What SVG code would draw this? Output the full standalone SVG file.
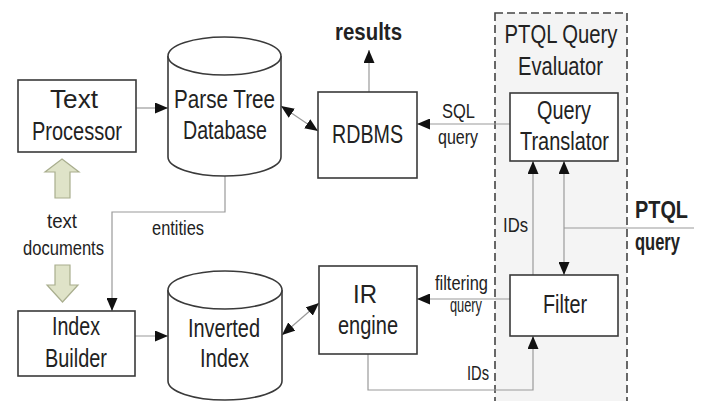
<svg xmlns="http://www.w3.org/2000/svg" width="701" height="401" viewBox="0 0 701 401">
  <style>
    .box { fill: #ffffff; stroke: #3a3a3a; stroke-width: 1.6; }
    .db { fill: #ffffff; stroke: #3a3a3a; stroke-width: 1.6; }
    .link { fill: none; stroke: #9a9a9a; stroke-width: 1.2; }
    .lbl { font-family: "Liberation Sans Narrow", "Liberation Sans", Arial, sans-serif; fill: #222222; text-anchor: middle; }
    .big { font-size: 26px; }
    .small { font-size: 20px; }
    .bold { font-weight: bold; font-size: 23px; }
    .fat { fill: #dfe3c8; stroke: #a9ae8e; stroke-width: 1.2; }
  </style>
  <defs>
    <marker id="head" markerUnits="userSpaceOnUse" markerWidth="13" markerHeight="11" refX="13" refY="5.5" orient="auto-start-reverse">
      <path d="M0,0 L13,5.5 L0,11 Z" fill="#111111"/>
    </marker>
  </defs>
  <rect width="701" height="401" fill="#ffffff"/>

  <!-- evaluator frame -->
  <g id="ptql-evaluator">
    <rect x="495" y="13" width="132" height="400" fill="#f4f4f4" stroke="#444444" stroke-width="1.6" stroke-dasharray="8 4"/>
    <text class="lbl big" x="561" y="43" textLength="113" lengthAdjust="spacingAndGlyphs">PTQL Query</text>
    <text class="lbl big" x="560.5" y="75" textLength="85" lengthAdjust="spacingAndGlyphs">Evaluator</text>
  </g>

  <!-- connectors -->
  <g id="connectors">
    <line class="link" x1="136" y1="108" x2="168" y2="108" marker-end="url(#head)"/>
    <line class="link" x1="281" y1="106" x2="318" y2="131" marker-start="url(#head)" marker-end="url(#head)"/>
    <line class="link" x1="369" y1="92" x2="369" y2="50" marker-end="url(#head)"/>
    <line class="link" x1="510" y1="124" x2="417" y2="124" marker-end="url(#head)"/>
    <line class="link" x1="533" y1="275" x2="533" y2="161" marker-end="url(#head)"/>
    <line class="link" x1="694" y1="228" x2="564" y2="228"/>
    <line class="link" x1="564" y1="228" x2="564" y2="161" marker-end="url(#head)"/>
    <line class="link" x1="564" y1="228" x2="564" y2="275" marker-end="url(#head)"/>
    <line class="link" x1="510" y1="299" x2="417" y2="299" marker-end="url(#head)"/>
    <path class="link" d="M368,354 V390 H533 V336" marker-end="url(#head)"/>
    <line class="link" x1="282" y1="335" x2="319" y2="303" marker-start="url(#head)" marker-end="url(#head)"/>
    <line class="link" x1="135" y1="336" x2="168" y2="336" marker-end="url(#head)"/>
    <path class="link" d="M225,176 V212 H112 V311" marker-end="url(#head)"/>
    <polygon class="fat" points="62,159 79,172 70,172 70,198 55,198 55,172 45,172"/>
    <polygon class="fat" points="55,265 70,265 70,285 78,285 62.5,302 47,285 55,285"/>
    <text class="lbl bold" x="368.5" y="40" textLength="67" lengthAdjust="spacingAndGlyphs">results</text>
    <text class="lbl small" x="458.5" y="118" textLength="33" lengthAdjust="spacingAndGlyphs">SQL</text>
    <text class="lbl small" x="458" y="144" textLength="40" lengthAdjust="spacingAndGlyphs">query</text>
    <text class="lbl bold" x="661.5" y="218" textLength="53" lengthAdjust="spacingAndGlyphs">PTQL</text>
    <text class="lbl bold" x="657.5" y="250" textLength="45" lengthAdjust="spacingAndGlyphs">query</text>
    <text class="lbl small" x="515.5" y="232" textLength="25" lengthAdjust="spacingAndGlyphs">IDs</text>
    <text class="lbl small" x="461.5" y="290" textLength="53" lengthAdjust="spacingAndGlyphs">filtering</text>
    <text class="lbl small" x="466" y="312" textLength="32" lengthAdjust="spacingAndGlyphs">query</text>
    <text class="lbl small" x="478" y="380" textLength="22" lengthAdjust="spacingAndGlyphs">IDs</text>
    <text class="lbl small" x="178" y="235" textLength="52" lengthAdjust="spacingAndGlyphs">entities</text>
    <text class="lbl small" x="62" y="228" textLength="30" lengthAdjust="spacingAndGlyphs">text</text>
    <text class="lbl small" x="63.5" y="255" textLength="81" lengthAdjust="spacingAndGlyphs">documents</text>
  </g>

  <!-- nodes -->
  <g id="text-processor">
    <rect class="box" x="18" y="80" width="118" height="72"/>
    <text class="lbl big" x="74" y="108" textLength="48" lengthAdjust="spacingAndGlyphs">Text</text>
    <text class="lbl big" x="77" y="140" textLength="90" lengthAdjust="spacingAndGlyphs">Processor</text>
  </g>

  <g id="parse-tree-database">
    <path class="db" d="M168,56 A56.5,19 0 0 1 281,56 V157 A56.5,19 0 0 1 168,157 Z"/>
    <path class="db" fill="none" d="M168,56 A56.5,19 0 0 0 281,56"/>
    <text class="lbl big" x="224.5" y="108" textLength="101" lengthAdjust="spacingAndGlyphs">Parse Tree</text>
    <text class="lbl big" x="225" y="139" textLength="84" lengthAdjust="spacingAndGlyphs">Database</text>
  </g>

  <g id="rdbms">
    <rect class="box" x="318" y="92" width="99" height="86"/>
    <text class="lbl big" x="367.5" y="143" textLength="71" lengthAdjust="spacingAndGlyphs">RDBMS</text>
  </g>

  <g id="query-translator">
    <rect class="box" x="510" y="93" width="108" height="68"/>
    <text class="lbl big" x="564" y="119" textLength="54" lengthAdjust="spacingAndGlyphs">Query</text>
    <text class="lbl big" x="564.5" y="150" textLength="89" lengthAdjust="spacingAndGlyphs">Translator</text>
  </g>

  <g id="filter">
    <rect class="box" x="510" y="275" width="108" height="61"/>
    <text class="lbl big" x="565" y="313" textLength="44" lengthAdjust="spacingAndGlyphs">Filter</text>
  </g>

  <g id="ir-engine">
    <rect class="box" x="319" y="266" width="98" height="88"/>
    <text class="lbl big" x="365" y="303" textLength="24" lengthAdjust="spacingAndGlyphs">IR</text>
    <text class="lbl big" x="368" y="334" textLength="60" lengthAdjust="spacingAndGlyphs">engine</text>
  </g>

  <g id="inverted-index">
    <path class="db" d="M168,290 A57,19 0 0 1 282,290 V381 A57,19 0 0 1 168,381 Z"/>
    <path class="db" fill="none" d="M168,290 A57,19 0 0 0 282,290"/>
    <text class="lbl big" x="224" y="337" textLength="72" lengthAdjust="spacingAndGlyphs">Inverted</text>
    <text class="lbl big" x="224.5" y="367" textLength="49" lengthAdjust="spacingAndGlyphs">Index</text>
  </g>

  <g id="index-builder">
    <rect class="box" x="18" y="311" width="117" height="65"/>
    <text class="lbl big" x="76" y="335" textLength="48" lengthAdjust="spacingAndGlyphs">Index</text>
    <text class="lbl big" x="76" y="367" textLength="62" lengthAdjust="spacingAndGlyphs">Builder</text>
  </g>
</svg>
